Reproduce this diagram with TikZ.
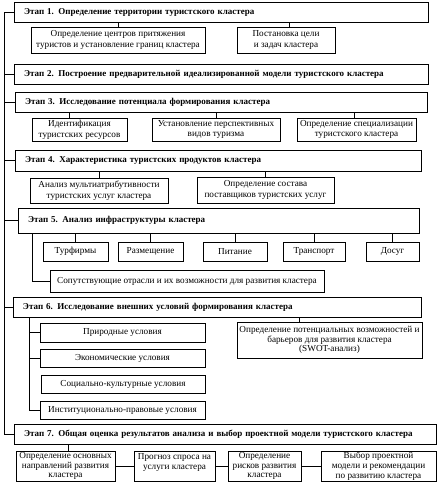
\documentclass[tikz,border=0pt]{standalone}
\usepackage{fontspec}
\setmainfont{Liberation Serif}
\newcommand\mybox[7]{\node[#6, minimum width={(#4-#2)*1pt}, minimum height={(#5-#3)*1pt}] (#1) at ({(#2+#4)/2},{(#3+#5)/2}) {#7};}
\newcommand\mystage[6]{\node[stage, text width={(#4-#2-20)*1pt}, minimum height={(#5-#3)*1pt}] (#1) at ({(#2+#4)/2},{(#3+#5)/2}) {#6};}
\begin{document}
\begin{tikzpicture}[x=1pt,y=-1pt,
  base/.style={draw, line width=0.7pt, inner sep=0pt, align=center, font=\fontsize{9.2}{10.6}\selectfont},
  tight/.style={base, font=\fontsize{9.2}{9.8}\selectfont},
  stage/.style={draw, line width=0.7pt, inner ysep=0pt, inner xsep=10pt, align=left, font=\fontsize{9}{11}\selectfont\bfseries},
  ln/.style={line width=0.7pt}]
\useasboundingbox (0,0) rectangle (438,490);
% stage 1
\mystage{s1}{14}{2}{428}{22}{Этап 1. Определение территории туристского кластера}
\mybox{a1}{31}{27}{205}{53}{base}{Определение центров притяжения\\туристов и установление границ кластера}
\mybox{a2}{237}{27}{335}{53}{base}{Постановка цели\\и задач кластера}
% stage 2
\mystage{s2}{14}{64}{428}{84}{Этап 2. Построение предварительной идеализированной модели туристского кластера}
% stage 3
\mystage{s3}{15}{92}{427}{112}{Этап 3. Исследование потенциала формирования кластера}
\mybox{b1}{32}{118}{127}{141}{base}{Идентификация\\туристских ресурсов}
\mybox{b2}{152}{118}{280}{141}{base}{Установление перспективных\\видов туризма}
\mybox{b3}{297}{118}{416}{141}{base}{Определение специализации\\туристского кластера}
% stage 4
\mystage{s4}{15}{150}{421}{171}{Этап 4. Характеристика туристских продуктов кластера}
\mybox{c1}{30}{178}{168}{203}{base}{Анализ мультиатрибутивности\\туристских услуг кластера}
\mybox{c2}{197}{177}{334}{203}{base}{Определение состава\\поставщиков туристских услуг}
% stage 5
\mystage{s5}{18}{208}{419}{233}{Этап 5. Анализ инфраструктуры кластера}
\mybox{d1}{43}{242}{108}{261}{base}{Турфирмы}
\mybox{d2}{118}{242}{183}{261}{base}{Размещение}
\mybox{d3}{203}{242}{267}{261}{base}{Питание}
\mybox{d4}{283}{242}{345}{261}{base}{Транспорт}
\mybox{d5}{366}{242}{419}{261}{base}{Досуг}
\mybox{e}{50}{270}{324}{292}{base}{Сопутствующие отрасли и их возможности для развития кластера}
% stage 6
\mystage{s6}{13}{297}{421}{317}{Этап 6. Исследование внешних условий формирования кластера}
\mybox{f1}{40}{323}{205}{342}{base}{Природные условия}
\mybox{f2}{40}{349}{205}{367}{base}{Экономические условия}
\mybox{f3}{41}{375}{205}{393}{base}{Социально-культурные условия}
\mybox{f4}{40}{401}{205}{419}{base}{Институционально-правовые условия}
\mybox{g}{237}{322}{422}{358}{tight}{Определение потенциальных возможностей и\\барьеров для развития кластера\\(SWOT-анализ)}
% stage 7
\mystage{s7}{14}{424}{436}{444}{Этап 7. Общая оценка результатов анализа и выбор проектной модели туристского кластера}
\mybox{h1}{16}{451}{115}{481}{tight}{Определение основных\\направлений развития\\кластера}
\mybox{h2}{134}{451}{215}{481}{tight}{Прогноз спроса на\\услуги кластера\\~}
\mybox{h3}{228}{451}{301}{481}{tight}{Определение\\рисков развития\\кластера}
\mybox{h4}{321}{451}{436}{481}{tight}{Выбор проектной\\модели и рекомендации\\по развитию кластера}
% spine
\draw[ln] (s1.west) -- (s1.west -| 4,0) -- (s7.west -| 4,0) -- (s7.west);
\foreach \s in {s2,s3,s4,s5,s6} \draw[ln] (\s.west) -- (\s.west -| 4,0);
% stage 1 children
\draw[ln] (a1.north) -- (a1.north |- s1.south);
\draw[ln] (a2.north -| 289,0) -- (s1.south -| 289,0);
% stage 3 children
\draw[ln] (b1.north -| 69,0) -- (s3.south -| 69,0);
\draw[ln] (b2.north) -- (b2.north |- s3.south);
\draw[ln] (b3.north -| 354,0) -- (s3.south -| 354,0);
% stage 4 children
\draw[ln] (c1.north) -- (c1.north |- s4.south);
\draw[ln] (c2.north) -- (c2.north |- s4.south);
% stage 5 children
\foreach \d in {d1,d2,d3,d4,d5} \draw[ln] (\d.north) -- (\d.north |- s5.south);
\draw[ln] (s5.south -| 32,0) |- (e.west);
% stage 6 children
\draw[ln] (s6.south -| 29,0) |- (f4.west);
\draw[ln] (f1.west) -- (f1.west -| 29,0);
\draw[ln] (f2.west) -- (f2.west -| 29,0);
\draw[ln] (g.north -| 299,0) -- (s6.south -| 299,0);
% stage 7 children
\draw[ln] (h1.north -| 68,0) -- (s7.south -| 68,0);
\draw[ln] (h1.east) -- (h2.west);
\draw[ln] (h2.east) -- (h3.west);
\draw[ln] (h3.east) -- (h4.west);
\end{tikzpicture}
\end{document}
